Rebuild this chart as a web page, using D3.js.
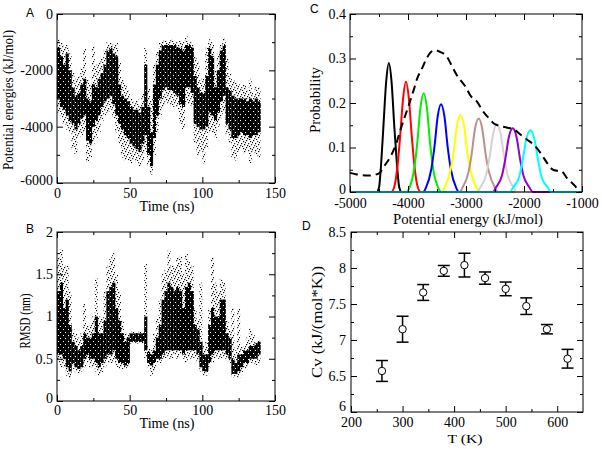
<!DOCTYPE html>
<html>
<head>
<meta charset="utf-8">
<script src="https://cdn.jsdelivr.net/npm/d3@7"></script>
<style>
body{margin:0;background:#fff;}
svg text{font-family:"Liberation Serif","Times New Roman",serif;font-size:14px;fill:#000;}
svg text.letter{font-family:"Liberation Sans",Arial,sans-serif;font-size:12px;}
</style>
</head>
<body>
<svg id="fig" width="602" height="449"></svg>
<script>
// ---------------- data ----------------
// A / B : trajectory binned every 2 ns (bin start times)
var binStart = d3.range(0, 140, 2);

// potential energy (kJ/mol): sparse top, dense top, dense bottom, sparse bottom
var energyTop = [-900,-1000,-1100,-1100,-1400,-2000,-2300,-2200,-1900,-1200,
	-2300,-2500,-1150,-1800,-1700,-1500,-1300,-1000,-1000,-1100,
	-1000,-1700,-2300,-2500,-2700,-3000,-3100,-3000,-3200,-2800,
	-1200,-2600,-3000,-1800,-1300,-1000,-950,-950,-950,-900,
	-950,-1000,-950,-1000,-800,-950,-1000,-1500,-1700,-2300,
	-2300,-1200,-900,-1000,-2000,-1400,-1000,-850,-1500,-2100,
	-2300,-2400,-2500,-2600,-2500,-2700,-2300,-2800,-2600,-2600];
var energyHigh = [-1200,-1500,-1800,-1400,-2000,-2600,-2900,-2800,-2500,-2300,
	-3000,-3100,-2500,-2600,-2300,-2100,-1800,-1300,-1200,-1400,
	-1500,-2500,-2900,-3000,-3100,-3300,-3400,-3400,-3500,-3300,
	-1800,-3300,-4200,-2500,-1800,-1300,-1100,-1100,-1100,-1100,
	-1100,-1200,-1200,-1300,-1100,-1100,-1200,-2200,-2600,-2800,
	-2800,-2200,-1200,-1500,-2600,-2000,-1300,-1100,-2600,-2700,
	-2900,-3000,-3000,-3000,-3000,-3100,-3000,-3100,-3000,-3100];
var energyLow = [-3000,-3300,-3400,-3600,-3800,-3900,-4100,-3900,-3700,-3600,
	-4500,-4600,-4000,-3800,-3600,-3300,-3100,-3000,-2900,-3200,
	-3600,-3900,-4100,-4300,-4400,-4600,-4700,-4800,-4900,-4600,
	-4300,-5000,-5400,-4400,-3600,-3000,-2700,-2600,-2700,-2700,
	-2800,-2900,-3200,-3300,-2600,-2600,-2800,-3900,-4000,-4100,
	-4100,-4000,-3500,-3600,-3800,-3500,-3100,-2900,-3900,-4100,
	-4400,-4400,-4300,-4200,-4300,-4300,-4400,-4300,-4300,-4200];
var energyBottom = [-3500,-3700,-3900,-4100,-4200,-4800,-5000,-4400,-4300,-4200,
	-5300,-5100,-4600,-4400,-4200,-3800,-3600,-3500,-3400,-3700,
	-4200,-4600,-5100,-5200,-5200,-5300,-5200,-5300,-5400,-5200,
	-4900,-5400,-5700,-5000,-4200,-3600,-3300,-3200,-3200,-3300,
	-3300,-3400,-3900,-4100,-3200,-3200,-3300,-4600,-5000,-4900,
	-5300,-4800,-4200,-4200,-4400,-4000,-3700,-3500,-4300,-4600,
	-5100,-5200,-4900,-4800,-5000,-4900,-5300,-4900,-5000,-5100];

// RMSD (nm): sparse top, dense top, dense bottom, sparse bottom
var rmsdTop = [1.7,1.8,1.6,1.6,1.3,0.85,0.8,0.75,0.8,1.15,
	0.9,0.9,1.0,1.45,1.0,1.0,1.3,1.6,1.7,1.75,
	1.5,1.3,0.95,0.8,0.8,0.82,0.82,0.82,0.82,0.82,
	1.62,0.65,0.6,0.8,1.0,1.2,1.5,1.55,1.78,1.6,
	1.6,1.7,1.72,1.5,1.75,1.65,1.6,1.1,0.95,1.4,
	0.65,0.7,1.1,1.7,1.4,1.3,1.45,1.4,0.95,0.85,
	1.1,0.6,1.1,0.65,0.65,0.75,0.85,0.8,0.7,0.72];
var rmsdHigh = [1.3,1.4,1.1,1.2,0.9,0.7,0.65,0.6,0.65,0.8,
	0.75,0.75,0.8,1.0,0.8,0.8,0.95,1.3,1.35,1.4,
	1.1,0.95,0.8,0.7,0.75,0.8,0.8,0.8,0.8,0.8,
	1.0,0.58,0.55,0.6,0.75,0.9,1.2,1.3,1.4,1.35,
	1.3,1.35,1.3,1.1,1.35,1.4,1.3,0.9,0.85,0.7,
	0.55,0.55,0.9,1.1,1.0,1.0,1.2,1.2,0.8,0.75,
	0.5,0.45,0.55,0.55,0.6,0.6,0.65,0.65,0.68,0.7];
var rmsdLow = [0.55,0.55,0.5,0.4,0.35,0.45,0.4,0.38,0.4,0.5,
	0.55,0.5,0.5,0.45,0.4,0.45,0.5,0.55,0.55,0.6,
	0.5,0.45,0.45,0.42,0.45,0.7,0.7,0.7,0.7,0.7,
	0.6,0.45,0.42,0.45,0.5,0.5,0.55,0.6,0.6,0.6,
	0.6,0.6,0.6,0.55,0.6,0.6,0.6,0.6,0.55,0.4,
	0.35,0.35,0.45,0.55,0.6,0.6,0.6,0.6,0.55,0.5,
	0.32,0.32,0.35,0.4,0.45,0.45,0.5,0.5,0.5,0.55];
var rmsdBottom = [0.45,0.4,0.4,0.3,0.27,0.38,0.35,0.33,0.35,0.4,
	0.45,0.4,0.4,0.35,0.3,0.33,0.4,0.45,0.45,0.45,
	0.4,0.38,0.38,0.38,0.4,0.68,0.68,0.68,0.68,0.68,
	0.5,0.4,0.3,0.35,0.45,0.45,0.5,0.5,0.5,0.5,
	0.55,0.5,0.55,0.5,0.45,0.5,0.5,0.5,0.45,0.35,
	0.3,0.3,0.4,0.45,0.5,0.5,0.5,0.5,0.5,0.45,
	0.28,0.28,0.27,0.33,0.38,0.4,0.45,0.45,0.42,0.45];

// C : energy distributions per replica, [energy, probability]
var replicaColors = ['#000000','#ff0000','#00ee00','#0000ff','#ffff00','#bc8f8f','#d3d3d3','#9400d3','#00ffff'];
var replicaCurves = [
	[[-4540,0],[-4500,0.01],[-4460,0.07],[-4425,0.145],[-4375,0.25],[-4330,0.29],[-4285,0.25],[-4235,0.145],[-4195,0.07],[-4150,0.01],[-4110,0]],
	[[-4290,0],[-4240,0.01],[-4180,0.06],[-4136,0.124],[-4085,0.21],[-4035,0.248],[-3985,0.21],[-3934,0.124],[-3890,0.06],[-3830,0.01],[-3780,0]],
	[[-4030,0],[-3975,0.01],[-3890,0.055],[-3840,0.111],[-3785,0.19],[-3730,0.222],[-3675,0.19],[-3620,0.111],[-3570,0.055],[-3480,0.01],[-3420,0]],
	[[-3740,0],[-3690,0.01],[-3600,0.05],[-3545,0.1],[-3488,0.17],[-3430,0.197],[-3372,0.17],[-3315,0.1],[-3260,0.05],[-3170,0.01],[-3120,0]],
	[[-3420,0],[-3370,0.01],[-3275,0.045],[-3215,0.087],[-3155,0.15],[-3095,0.173],[-3035,0.15],[-2975,0.087],[-2915,0.045],[-2820,0.01],[-2770,0]],
	[[-3110,0],[-3060,0.01],[-2960,0.043],[-2905,0.083],[-2845,0.142],[-2782,0.165],[-2720,0.142],[-2660,0.083],[-2600,0.043],[-2500,0.01],[-2450,0]],
	[[-2810,0],[-2755,0.01],[-2650,0.04],[-2595,0.077],[-2530,0.132],[-2467,0.153],[-2405,0.132],[-2340,0.077],[-2285,0.04],[-2180,0.01],[-2125,0]],
	[[-2540,0],[-2485,0.01],[-2380,0.037],[-2325,0.072],[-2260,0.124],[-2195,0.143],[-2130,0.124],[-2065,0.072],[-2010,0.037],[-1905,0.01],[-1850,0]],
	[[-2245,0],[-2190,0.01],[-2080,0.035],[-2025,0.07],[-1958,0.12],[-1890,0.139],[-1822,0.12],[-1755,0.07],[-1700,0.035],[-1590,0.01],[-1535,0]]
];
// reweighted distribution (dashed)
var totalCurve = [[-5000,0.043],[-4900,0.04],[-4800,0.038],[-4700,0.037],[-4600,0.038],[-4500,0.042],
	[-4400,0.06],[-4300,0.08],[-4200,0.11],[-4130,0.14],[-4000,0.19],[-3900,0.23],[-3850,0.252],
	[-3750,0.28],[-3680,0.3],[-3600,0.315],[-3540,0.319],[-3450,0.315],[-3330,0.304],[-3250,0.285],
	[-3160,0.263],[-3100,0.252],[-3000,0.235],[-2930,0.218],[-2810,0.203],[-2700,0.18],[-2600,0.165],
	[-2520,0.154],[-2400,0.148],[-2300,0.145],[-2180,0.141],[-2050,0.128],[-1950,0.118],[-1830,0.106],
	[-1700,0.085],[-1600,0.065],[-1500,0.05],[-1430,0.048],[-1370,0.048],[-1250,0.03],[-1110,0.012],[-1040,0]];

// D : heat capacity
var temps = [260,300,340,380,420,460,500,540,580,620];
var cv = [6.57,7.15,7.66,7.96,8.04,7.86,7.71,7.47,7.15,6.74];
var cvErr = [0.145,0.18,0.11,0.075,0.165,0.085,0.095,0.115,0.065,0.13];

// ---------------- layout ----------------
var svg = d3.select('#fig');
var defs = svg.append('defs');

// irregular speckle for the sparse parts of the scatter
var speckle = defs.append('pattern')
	.attr('id','dots')
	.attr('width',7).attr('height',7)
	.attr('patternUnits','userSpaceOnUse');
[[0,0],[4,1],[2,3],[5,4],[1,5],[3,6],[6,2]].forEach(p => {
	speckle.append('rect').attr('x',p[0]).attr('y',p[1])
		.attr('width',1.2).attr('height',1.2).attr('fill','#000');
});
// dense parts: black with a few holes
var dense = defs.append('pattern')
	.attr('id','dense')
	.attr('width',5).attr('height',6)
	.attr('patternUnits','userSpaceOnUse');
dense.append('rect').attr('width',5).attr('height',6).attr('fill','#000');
[[1,1],[3,4]].forEach(p => {
	dense.append('rect').attr('x',p[0]).attr('y',p[1])
		.attr('width',1).attr('height',1).attr('fill','#fff');
});

function makePanel(box, xDomain, yDomain) {
	var w = box.r - box.l,
		h = box.b - box.t;
	var g = svg.append('g').attr('transform',`translate(${box.l},${box.t})`);
	var x = d3.scaleLinear().domain(xDomain).range([0,w]);
	var y = d3.scaleLinear().domain(yDomain).range([h,0]);
	return {g:g, x:x, y:y, w:w, h:h};
}

function styleAxis(sel) {
	sel.attr('font-family',null).attr('font-size',null);
	sel.select('.domain').remove();
	sel.selectAll('line').attr('stroke','#000');
}

// box with inward ticks on all four sides
function drawFrame(p, xMajor, xMinor, yMajor, yMinor, xPad, yPad, lowDy) {
	var fmt = d => String(d);
	p.g.append('g').attr('transform',`translate(0,${p.h})`)
		.call(d3.axisBottom(p.x).tickValues(xMajor).tickSize(-6).tickSizeOuter(0).tickPadding(xPad).tickFormat(fmt))
		.call(styleAxis);
	p.g.append('g').attr('transform',`translate(0,${p.h})`)
		.call(d3.axisBottom(p.x).tickValues(xMinor).tickSize(-3).tickSizeOuter(0).tickFormat(''))
		.call(styleAxis);
	p.g.append('g')
		.call(d3.axisTop(p.x).tickValues(xMajor).tickSize(-6).tickSizeOuter(0).tickFormat(''))
		.call(styleAxis);
	p.g.append('g')
		.call(d3.axisTop(p.x).tickValues(xMinor).tickSize(-3).tickSizeOuter(0).tickFormat(''))
		.call(styleAxis);
	var yAxis = p.g.append('g')
		.call(d3.axisLeft(p.y).tickValues(yMajor).tickSize(-6).tickSizeOuter(0).tickPadding(yPad).tickFormat(fmt))
		.call(styleAxis);
	// lowest label sits a touch higher so it clears the x labels
	yAxis.selectAll('.tick text').filter(d => d === yMajor[0]).attr('dy', lowDy || '0.1em');
	p.g.append('g')
		.call(d3.axisLeft(p.y).tickValues(yMinor).tickSize(-3).tickSizeOuter(0).tickFormat(''))
		.call(styleAxis);
	p.g.append('g').attr('transform',`translate(${p.w},0)`)
		.call(d3.axisRight(p.y).tickValues(yMajor).tickSize(-6).tickSizeOuter(0).tickFormat(''))
		.call(styleAxis);
	p.g.append('g').attr('transform',`translate(${p.w},0)`)
		.call(d3.axisRight(p.y).tickValues(yMinor).tickSize(-3).tickSizeOuter(0).tickFormat(''))
		.call(styleAxis);
	p.g.append('rect')
		.attr('x',0).attr('y',0)
		.attr('width',p.w).attr('height',p.h)
		.attr('fill','none').attr('stroke','#000').attr('stroke-width',1);
}

// titles; lengths follow the (unevenly scaled) panels of the original figure
function addTitles(p, xt, yt) {
	p.g.append('text')
		.attr('x',p.w/2 + (xt.dx || 0)).attr('y',p.h + xt.base)
		.attr('text-anchor','middle')
		.style('font-size', (xt.size || 14) + 'px')
		.attr('textLength',xt.len).attr('lengthAdjust','spacingAndGlyphs')
		.text(xt.text);
	p.g.append('text')
		.attr('transform',`translate(${yt.base},${yt.center})rotate(-90)`)
		.attr('text-anchor','middle')
		.attr('textLength',yt.len).attr('lengthAdjust','spacingAndGlyphs')
		.text(yt.text);
}

function drawBins(p, top, high, low, bottom) {
	var bins = binStart.map((t,i) => ({t:t, top:top[i], hi:high[i], lo:low[i], bot:bottom[i]}));
	var bw = p.x(2) - p.x(0);
	p.g.append('g').selectAll('rect')
		.data(bins).enter().append('rect')
		.attr('x', d => p.x(d.t))
		.attr('width', bw)
		.attr('y', d => p.y(d.top))
		.attr('height', d => p.y(d.bot) - p.y(d.top))
		.attr('fill','url(#dots)');
	p.g.append('g').selectAll('rect')
		.data(bins).enter().append('rect')
		.attr('x', d => p.x(d.t))
		.attr('width', bw + 0.2)
		.attr('y', d => p.y(d.hi))
		.attr('height', d => p.y(d.lo) - p.y(d.hi))
		.attr('fill','url(#dense)');
}

// ---------------- panel A ----------------
var pA = makePanel({l:57, r:275, t:14, b:183}, [0,150], [-6000,0]);
drawBins(pA, energyTop, energyHigh, energyLow, energyBottom);
drawFrame(pA, [0,50,100,150], [25,75,125], [-6000,-4000,-2000,0], [-5000,-3000,-1000], 5, 4);
addTitles(pA,
	{text:'Time (ns)', base:28, len:55, dx:1},
	{text:'Potential energies (kJ/mol)', base:-44, center:86, len:140});

// ---------------- panel B ----------------
var pB = makePanel({l:57, r:275, t:232, b:401}, [0,150], [0,2]);
drawBins(pB, rmsdTop, rmsdHigh, rmsdLow, rmsdBottom);
drawFrame(pB, [0,50,100,150], [25,75,125], [0,0.5,1,1.5,2], [0.25,0.75,1.25,1.75], 4.5, 4);
addTitles(pB,
	{text:'Time (ns)', base:27, len:55, dx:1},
	{text:'RMSD (nm)', base:-27, center:89, len:55});

// ---------------- panel C ----------------
var pC = makePanel({l:350, r:582, t:14, b:192}, [-5000,-1000], [0,0.4]);
var line = d3.line()
	.x(d => pC.x(d[0]))
	.y(d => pC.y(d[1]))
	.curve(d3.curveMonotoneX);
pC.g.append('g').selectAll('path')
	.data(replicaCurves).enter().append('path')
	.attr('d', d => line([[-5000,0]].concat(d, [[-1000,0]])))
	.attr('fill','none')
	.attr('stroke', (d,i) => replicaColors[i])
	.attr('stroke-width',2);
pC.g.append('path')
	.attr('d', line(totalCurve))
	.attr('fill','none')
	.attr('stroke','#000')
	.attr('stroke-width',2)
	.attr('stroke-dasharray','8,5');
drawFrame(pC, [-5000,-4000,-3000,-2000,-1000], [-4500,-3500,-2500,-1500], [0,0.1,0.2,0.3,0.4], [0.05,0.15,0.25,0.35], 6, 4);
addTitles(pC,
	{text:'Potential energy (kJ/mol)', base:32, len:150, dx:2},
	{text:'Probability', base:-30, center:86, len:66});

// ---------------- panel D ----------------
var pD = makePanel({l:351, r:583, t:232, b:412}, [200,650], [6,8.5]);
var cvData = temps.map((t,i) => ({t:t, v:cv[i], e:cvErr[i]}));
var eb = pD.g.append('g').selectAll('g')
	.data(cvData).enter().append('g');
eb.append('line')
	.attr('x1', d => pD.x(d.t)).attr('x2', d => pD.x(d.t))
	.attr('y1', d => pD.y(d.v + d.e)).attr('y2', d => pD.y(d.v - d.e))
	.attr('stroke','#000').attr('stroke-width',1.5);
eb.append('line')
	.attr('x1', d => pD.x(d.t) - 6).attr('x2', d => pD.x(d.t) + 6)
	.attr('y1', d => pD.y(d.v + d.e)).attr('y2', d => pD.y(d.v + d.e))
	.attr('stroke','#000').attr('stroke-width',1.5);
eb.append('line')
	.attr('x1', d => pD.x(d.t) - 6).attr('x2', d => pD.x(d.t) + 6)
	.attr('y1', d => pD.y(d.v - d.e)).attr('y2', d => pD.y(d.v - d.e))
	.attr('stroke','#000').attr('stroke-width',1.5);
eb.append('circle')
	.attr('cx', d => pD.x(d.t)).attr('cy', d => pD.y(d.v))
	.attr('r',3.7)
	.attr('fill','#fff').attr('stroke','#000').attr('stroke-width',1);
drawFrame(pD, [200,300,400,500,600], [250,350,450,550], [6,6.5,7,7.5,8,8.5], [6.25,6.75,7.25,7.75,8.25], 5, 5, '-0.08em');
addTitles(pD,
	{text:'T (K)', base:30.5, len:35, dx:-2, size:13},
	{text:'Cv (kJ/(mol*K))', base:-29, center:90, len:112});

// ---------------- panel letters ----------------
[['A',26,17],['B',26,233],['C',310,13],['D',302,230]].forEach(d => {
	svg.append('text').attr('class','letter').attr('x',d[1]).attr('y',d[2]).text(d[0]);
});
</script>
</body>
</html>
